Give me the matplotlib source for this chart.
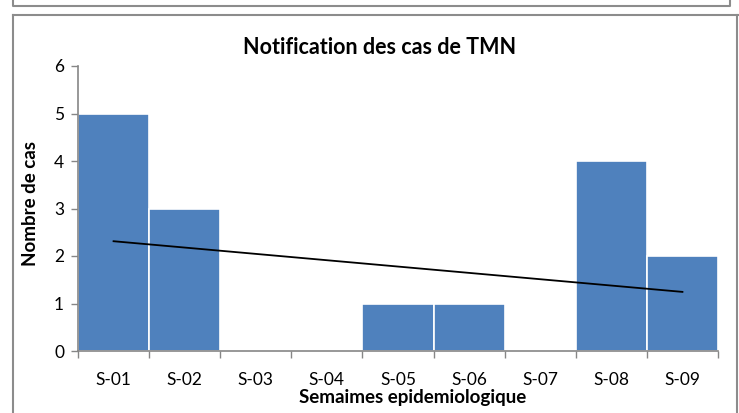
import matplotlib
matplotlib.use("Agg")
import matplotlib.pyplot as plt
from matplotlib.lines import Line2D
import numpy as np

plt.rcParams['font.family'] = ['Lato', 'DejaVu Sans']

categories = ["S-01", "S-02", "S-03", "S-04", "S-05", "S-06", "S-07", "S-08", "S-09"]
values = [5, 3, 0, 0, 1, 1, 0, 4, 2]
title = "Notification des cas de TMN"
xlabel = "Semaimes epidemiologique"
ylabel = "Nombre de cas"

W, H = 739, 413
fig = plt.figure(figsize=(W / 100, H / 100), dpi=100)
ax = fig.add_axes([78 / W, 1 - 351 / H, 640 / W, 285 / H])

x = np.arange(1, len(categories) + 1)
ax.bar(x, values, width=1.0, color="#4F81BD", edgecolor="white", linewidth=1.2, zorder=2)

# linear trendline (least squares, like Excel)
coef = np.polyfit(x, values, 1)
ax.plot(x[[0, -1]], np.polyval(coef, x[[0, -1]]), color="black", linewidth=1.3, zorder=3)

ax.set_xlim(0.5, len(categories) + 0.5)
ax.set_ylim(0, 6)
ax.set_yticks(range(0, 7))
ax.set_xticks(x)
ax.set_xticklabels(categories)
ax.set_xticks(np.arange(0.5, len(categories) + 1, 1), minor=True)
ax.tick_params(axis='x', which='major', length=0, labelsize=12.5, pad=15)
ax.tick_params(axis='x', which='minor', length=5, color="#868686", width=1)
ax.tick_params(axis='y', length=5, color="#868686", width=1, labelsize=12.5, pad=5)
for s in ['top', 'right']:
    ax.spines[s].set_visible(False)
for s in ['left', 'bottom']:
    ax.spines[s].set_color("#868686")
    ax.spines[s].set_linewidth(1.2)

fig.text(380 / W, 1 - 47 / H, title, ha='center', va='center', fontsize=15.5, fontweight='bold')
fig.text(413 / W, 1 - 398 / H, xlabel, ha='center', va='center', fontsize=13.5, fontweight='bold')
fig.text(30 / W, 1 - 203 / H, ylabel, ha='center', va='center', rotation=90, fontsize=13.5, fontweight='bold')

# frames
gray = "#8c8c8c"
def fl(xs, ys):
    fig.add_artist(Line2D([a / W for a in xs], [1 - b / H for b in ys], color=gray, linewidth=1.5,
                          transform=fig.transFigure))
fl([13, 13, 730, 730], [0, 6, 6, 0])
fl([13, 13], [H, 15])
fl([13, W], [15, 15])
fl([737, 737], [15, H])

fig.savefig("out.png", dpi=100)
